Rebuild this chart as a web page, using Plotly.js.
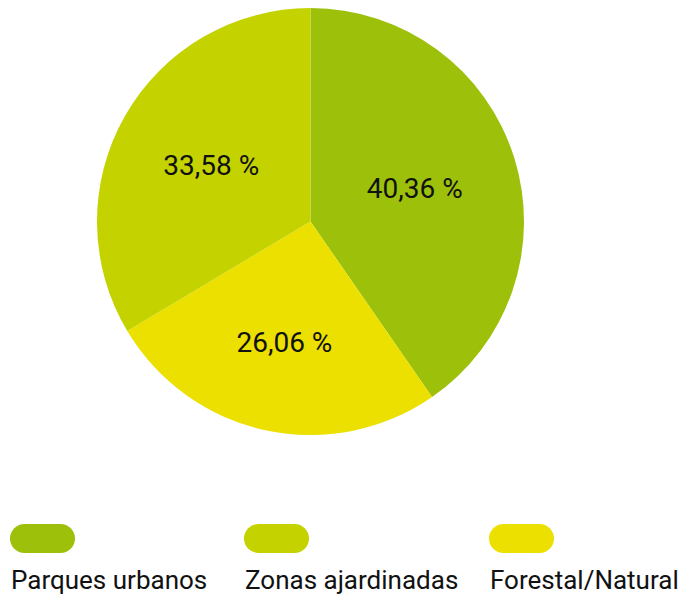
<!DOCTYPE html>
<html><head><meta charset="utf-8">
<script src="https://cdn.plot.ly/plotly-3.0.1.min.js"></script>
<style>html,body{margin:0;padding:0;background:#fff}#c{width:693px;height:594px}</style>
</head><body><div id="c"></div>
<script>
// Data (clockwise order from 12 o'clock)
var pieLabels = ['Parques urbanos', 'Forestal/Natural', 'Zonas ajardinadas'];
var pieValues = [40.36, 26.06, 33.58];
var pieColors = ['#9dc10b', '#ebe000', '#c4d300'];
// Legend order
var legendLabels = ['Parques urbanos', 'Zonas ajardinadas', 'Forestal/Natural'];
var legendColors = ['#9dc10b', '#c4d300', '#ebe000'];

var W = 693, H = 594;
var FONT = 'Roboto, "DejaVu Sans", sans-serif';

var trace = {
  type: 'pie',
  labels: pieLabels,
  values: pieValues,
  sort: false,
  direction: 'clockwise',
  rotation: 0,
  marker: {colors: pieColors, line: {width: 0}},
  texttemplate: '%{value:.2f} %',
  textposition: 'inside',
  insidetextorientation: 'horizontal',
  textfont: {family: FONT, size: 28, color: '#111'},
  hoverinfo: 'label+percent',
  showlegend: false,
  domain: {x: [97/W, 524/W], y: [1 - 435/H, 1 - 8/H]}
};

var legendX = [10, 244, 489];
var shapes = [], annotations = [];
function px(x){return x / W;}
function py(y){return 1 - y / H;}
legendLabels.forEach(function(lbl, i){
  var x0 = legendX[i], y0 = 524, w = 65, h = 29, r = h/2, c = legendColors[i];
  shapes.push({type:'circle', xref:'paper', yref:'paper', x0:px(x0), x1:px(x0+h), y0:py(y0+h), y1:py(y0), fillcolor:c, line:{width:0}});
  shapes.push({type:'circle', xref:'paper', yref:'paper', x0:px(x0+w-h), x1:px(x0+w), y0:py(y0+h), y1:py(y0), fillcolor:c, line:{width:0}});
  shapes.push({type:'rect', xref:'paper', yref:'paper', x0:px(x0+r), x1:px(x0+w-r), y0:py(y0+h), y1:py(y0), fillcolor:c, line:{width:0}});
  annotations.push({text: lbl, xref:'paper', yref:'paper', x: px(x0-1), y: py(580), xanchor:'left', yanchor:'middle', showarrow:false, font:{family: FONT, size: 26, color:'#111'}});
});

var layout = {
  width: W, height: H,
  margin: {l:0, r:0, t:0, b:0},
  paper_bgcolor: '#fff',
  separators: ',.',
  showlegend: false,
  shapes: shapes,
  annotations: annotations
};
Plotly.newPlot('c', [trace], layout, {displayModeBar: false, staticPlot: true});
</script>
</body></html>
